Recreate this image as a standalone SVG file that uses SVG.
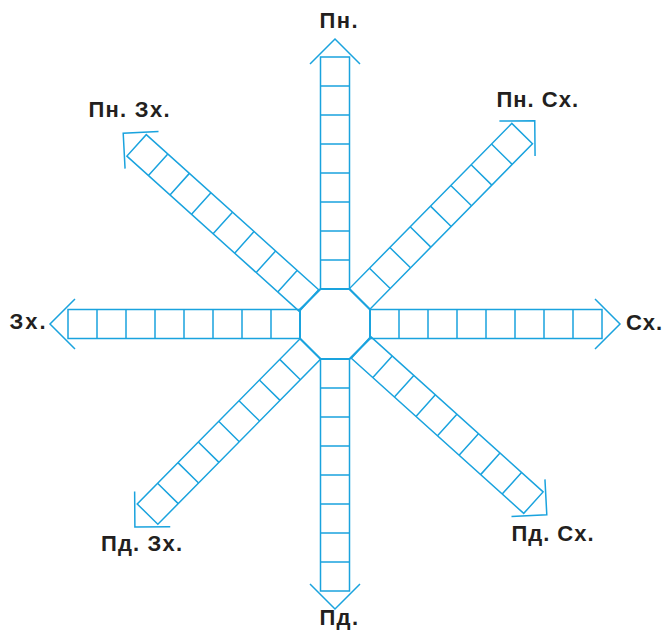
<svg xmlns="http://www.w3.org/2000/svg" xmlns:xlink="http://www.w3.org/1999/xlink" width="666" height="630" viewBox="0 0 666 630">
<style>
.a{fill:none;stroke:#1aa3de;stroke-width:1.5;stroke-linejoin:miter}
.o{fill:none;stroke:#1aa3de;stroke-width:2}
.t{font-family:"Liberation Sans",Arial,sans-serif;font-weight:bold;font-size:22px;fill:#231f20}
</style>
<defs>
<g id="arm" class="a">
<rect x="-14.5" y="-267" width="29" height="232"/>
<path d="M-14.5 -64H14.5M-14.5 -93H14.5M-14.5 -122H14.5M-14.5 -151H14.5M-14.5 -180H14.5M-14.5 -209H14.5M-14.5 -238H14.5"/>
<polyline points="-25,-260 0,-285 25,-260"/>
</g>
</defs>
<rect width="666" height="630" fill="#fff"/>
<g id="arms">
<use id="arm-n" xlink:href="#arm" href="#arm" transform="translate(335,324)"/>
<use id="arm-ne" xlink:href="#arm" href="#arm" transform="translate(335,324) rotate(44.5)"/>
<use id="arm-e" xlink:href="#arm" href="#arm" transform="translate(335,324) rotate(90)"/>
<use id="arm-se" xlink:href="#arm" href="#arm" transform="translate(335,324) rotate(132)"/>
<use id="arm-s" xlink:href="#arm" href="#arm" transform="translate(335,324) rotate(180)"/>
<use id="arm-sw" xlink:href="#arm" href="#arm" transform="translate(335,324) rotate(224.6)"/>
<use id="arm-w" xlink:href="#arm" href="#arm" transform="translate(335,324) rotate(270)"/>
<use id="arm-nw" xlink:href="#arm" href="#arm" transform="translate(335,324) rotate(-48)"/>
</g>
<g id="center">
<polygon class="o" points="320.5,289 349.5,289 370,309.5 370,338.5 349.5,359 320.5,359 300,338.5 300,309.5"/>
</g>
<g id="labels">
<text class="t" x="319.5" y="28" textLength="38">Пн.</text>
<text class="t" x="496.5" y="107.3" textLength="81.5">Пн. Сх.</text>
<text class="t" x="88.5" y="117.3" textLength="81">Пн. Зх.</text>
<text class="t" x="9.5" y="328.5" textLength="36">Зх.</text>
<text class="t" x="626" y="330" textLength="36">Сх.</text>
<text class="t" x="101" y="551" textLength="81">Пд. Зх.</text>
<text class="t" x="511.5" y="541" textLength="82">Пд. Сх.</text>
<text class="t" x="319.5" y="624.5" textLength="38.5">Пд.</text>
</g>
</svg>
